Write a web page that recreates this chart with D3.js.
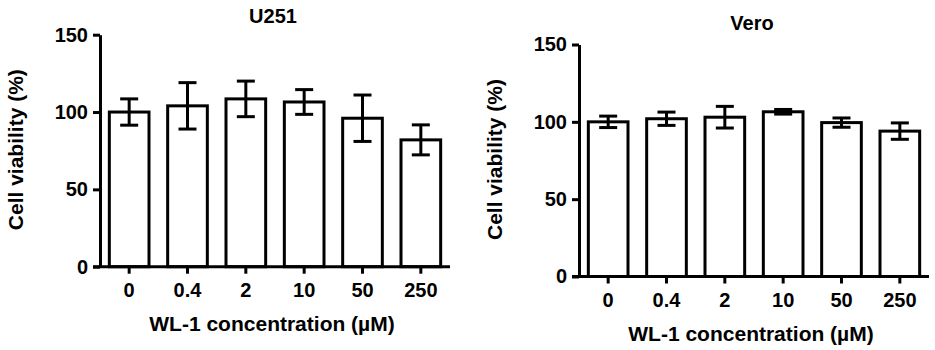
<!DOCTYPE html>
<html>
<head>
<meta charset="utf-8">
<script src="https://cdn.jsdelivr.net/npm/d3@7"></script>
<style>
  body { margin: 0; background: #fff; }
  svg { display: block; }
  text { font-family: "Liberation Sans", Arial, sans-serif; font-weight: bold; fill: #000; }
</style>
</head>
<body>
<script>
//==============================================================================
// DATA
//==============================================================================

const categories = ['0', '0.4', '2', '10', '50', '250'];
const yTicks = [0, 50, 100, 150];

const u251Mean = [100, 104, 108.5, 106.5, 96, 82];
const u251Err = [8.5, 15, 11.5, 8, 15, 9.7];

const veroMean = [100, 102, 103, 106.5, 99.5, 94];
const veroErr = [3.7, 4.3, 7, 1.5, 3, 5.3];

//==============================================================================
// PARAMETERS
//==============================================================================

const W = 935, H = 350;
const plotW = 350, plotH = 232;

const panels = [
  { title: 'U251', mean: u251Mean, err: u251Err, left: 100, top: 34.7, titleY: -11.5 },
  { title: 'Vero', mean: veroMean, err: veroErr, left: 579, top: 44.5, titleY: -14.5 }
];

const svg = d3.select('body').append('svg')
  .attr('width', W)
  .attr('height', H);

//==============================================================================
// DRAW
//==============================================================================

panels.forEach(p => {

  const g = svg.append('g')
    .attr('transform', `translate(${p.left},${p.top})`);

  const x = d3.scaleBand()
    .domain(categories)
    .range([0, plotW])
    .paddingInner(0.32)
    .paddingOuter(0.16);

  const y = d3.scaleLinear().domain([0, 150]).range([plotH, 0]);

  // bars
  g.append('g')
    .selectAll('rect')
    .data(p.mean)
    .enter()
    .append('rect')
    .attr('x', (d, i) => x(categories[i]))
    .attr('y', d => y(d))
    .attr('width', x.bandwidth())
    .attr('height', d => y(0) - y(d))
    .attr('fill', '#fff')
    .attr('stroke', '#000')
    .attr('stroke-width', 3);

  // error bars
  const eb = g.append('g')
    .selectAll('g')
    .data(p.mean)
    .enter()
    .append('g')
    .attr('transform', (d, i) => `translate(${x(categories[i]) + x.bandwidth() / 2},0)`);

  eb.append('line')
    .attr('y1', (d, i) => y(d + p.err[i]))
    .attr('y2', (d, i) => y(d - p.err[i]))
    .attr('stroke', '#000')
    .attr('stroke-width', 3);

  [1, -1].forEach(s => {
    eb.append('line')
      .attr('x1', -9)
      .attr('x2', 9)
      .attr('y1', (d, i) => y(d + s * p.err[i]))
      .attr('y2', (d, i) => y(d + s * p.err[i]))
      .attr('stroke', '#000')
      .attr('stroke-width', 3);
  });

  // x axis
  const xAxis = g.append('g')
    .attr('transform', `translate(0,${plotH})`)
    .call(d3.axisBottom(x).tickSize(7).tickPadding(9).tickSizeOuter(0));

  // y axis
  const yAxis = g.append('g')
    .call(d3.axisLeft(y).tickValues(yTicks).tickSize(7).tickPadding(5).tickSizeOuter(0));

  [xAxis, yAxis].forEach(a => {
    a.select('.domain').attr('stroke', '#000').attr('stroke-width', 3);
    a.selectAll('.tick line').attr('stroke', '#000').attr('stroke-width', 3);
    a.selectAll('.tick text')
      .attr('font-size', 20)
      .attr('font-family', '"Liberation Sans", Arial, sans-serif')
      .attr('font-weight', 'bold')
      .attr('fill', '#000');
  });
  // extend x-axis baseline to meet the left tick
  xAxis.select('.domain').attr('d', `M-7,0H${plotW}`);

  // title
  g.append('text')
    .attr('x', plotW / 2 - 2)
    .attr('y', p.titleY)
    .attr('text-anchor', 'middle')
    .attr('font-size', 20)
    .text(p.title);

  // x label
  g.append('text')
    .attr('x', plotW / 2 - 3)
    .attr('y', plotH + 64)
    .attr('text-anchor', 'middle')
    .attr('font-size', 21)
    .text('WL-1 concentration (µM)');

  // y label
  g.append('text')
    .attr('transform', `translate(-77,${plotH / 2 - 1}) rotate(-90)`)
    .attr('text-anchor', 'middle')
    .attr('font-size', 21)
    .text('Cell viability (%)');
});
</script>
</body>
</html>
